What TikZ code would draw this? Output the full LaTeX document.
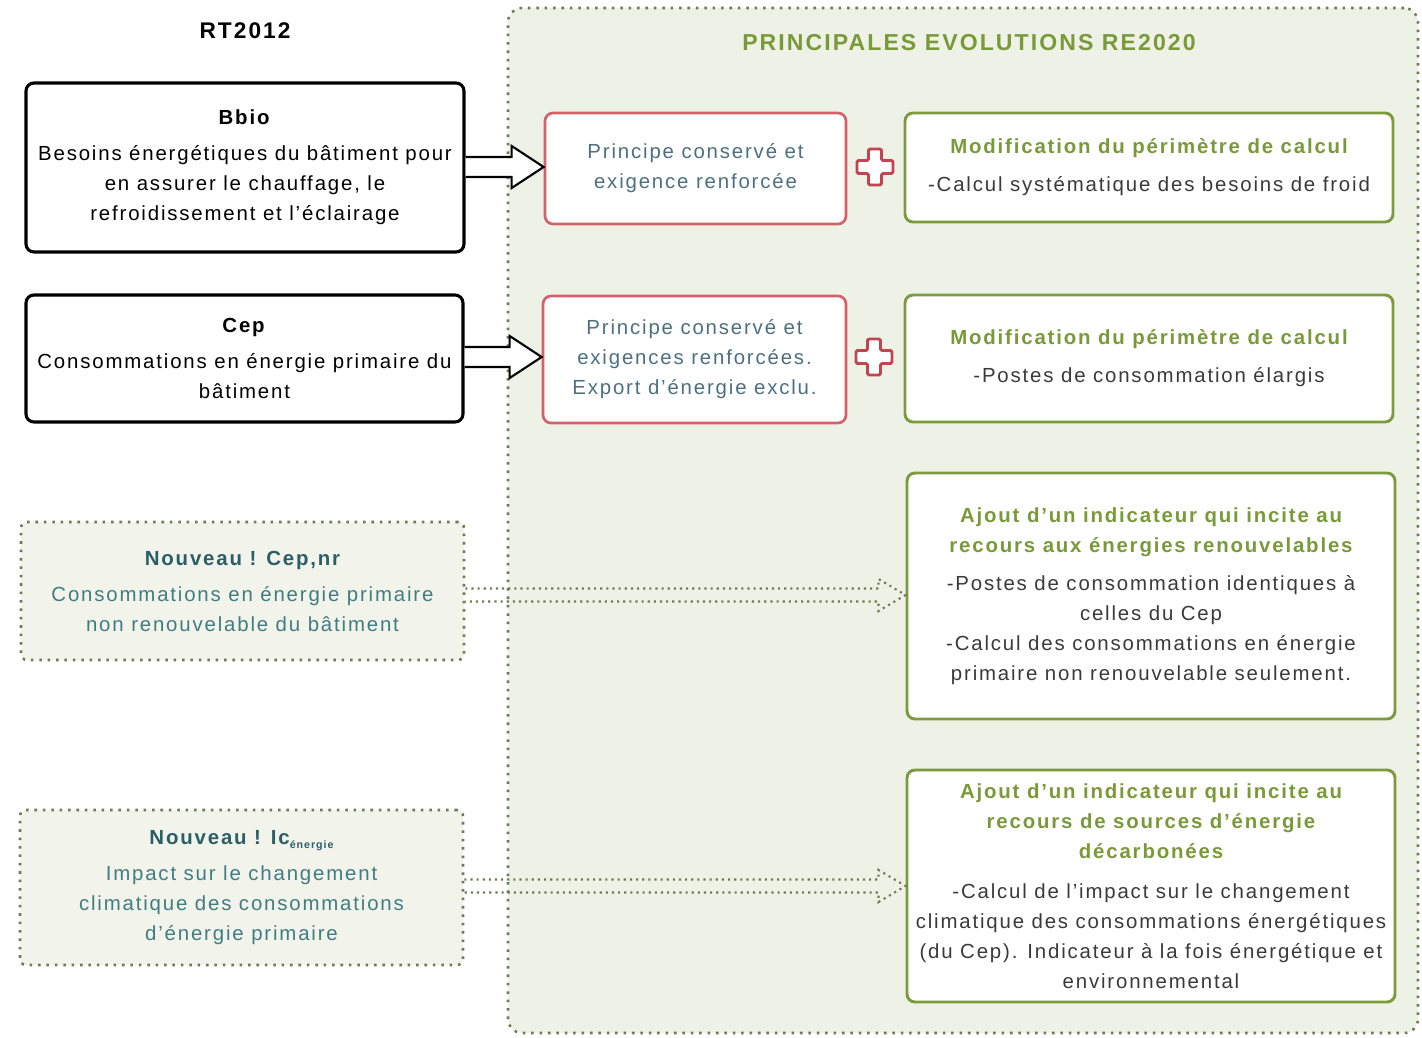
\documentclass[tikz,border=0pt]{standalone}
\usepackage{fontspec}
\setmainfont[LetterSpace=9]{Liberation Sans}
\usetikzlibrary{calc}
\newdimen\px \px=0.75pt
\definecolor{grn}{HTML}{7D9B3E}
\definecolor{grntxt}{HTML}{7A9A3A}
\definecolor{redb}{HTML}{D4606A}
\definecolor{plusc}{HTML}{C04550}
\definecolor{tealA}{HTML}{2B5F66}
\definecolor{tealB}{HTML}{3F7D80}
\definecolor{redtxt}{HTML}{4D7080}
\definecolor{bodytxt}{HTML}{3A3A3A}
\definecolor{contfill}{HTML}{EEF1E6}
\definecolor{leftfill}{HTML}{F2F4EC}
\definecolor{dotc}{HTML}{707A55}
\tikzset{
  txt/.style={font=\fontsize{15.3}{22.5}\selectfont, align=center, inner sep=0pt},
  rtbox/.style={txt, draw=black, line width=2.3pt, rounded corners=8\px, fill=white},
  redbox/.style={txt, draw=redb, line width=2pt, rounded corners=8\px, fill=white, text=redtxt},
  grnbox/.style={txt, draw=grn, line width=2.2pt, rounded corners=8\px, fill=white, text=bodytxt},
  dotbox/.style={txt, draw=dotc, line width=1.9pt, dash pattern=on 1.9pt off 4.4pt, rounded corners=6\px, fill=leftfill, text=tealB},
  container/.style={draw=dotc, line width=1.9pt, dash pattern=on 1.9pt off 4.4pt, rounded corners=14\px, fill=contfill, inner sep=0pt},
  bigarrow/.style={draw=black, line width=1.6pt, fill=white, line join=miter},
  dotarrow/.style={draw=dotc, line width=1.6pt, dash pattern=on 1.6pt off 3pt},
  plusst/.style={draw=plusc, line width=2.2pt, fill=white, rounded corners=1.5\px, line join=round}
}
\newcommand\gt[1]{{\bfseries\color{grntxt}#1}}
\newcommand\plussign[1]{\draw[plusst] (#1) ++(-6.5,-18) -- ++(13,0) -- ++(0,11.5) -- ++(11.5,0) -- ++(0,13) -- ++(-11.5,0) -- ++(0,11.5) -- ++(-13,0) -- ++(0,-11.5) -- ++(-11.5,0) -- ++(0,-13) -- ++(11.5,0) -- cycle;}
% hollow arrow: start, end, shaft half, head half, head length, style
\newcommand\harrow[6]{\draw[#6] ($(#1)+(0,-#3)$) -- ($(#2)+(-#5,-#3)$) -- ($(#2)+(-#5,-#4)$) -- (#2) -- ($(#2)+(-#5,#4)$) -- ($(#2)+(-#5,#3)$) -- ($(#1)+(0,#3)$);}
\begin{document}
\begin{tikzpicture}[x=0.75pt,y=-0.75pt]
\useasboundingbox (0,0) rectangle (1422,1038);
\fill[white] (0,0) rectangle (1422,1038);

% container
\node[container, minimum width=910\px, minimum height=1025\px] (re) at (963,520.5) {};
\node[font=\fontsize{17.3}{20}\selectfont\bfseries, text=grntxt, inner sep=0pt] (retitle) at (969,43) {PRINCIPALES EVOLUTIONS RE2020};
\node[font=\fontsize{17}{20}\selectfont\bfseries, inner sep=0pt] (rttitle) at (245,31) {RT2012};

% left RT2012 boxes
\node[rtbox, minimum width=438\px, minimum height=169\px] (bbio) at (245,167.5)
  {\textbf{Bbio}\\[6\px] Besoins énergétiques du bâtiment pour\\en assurer le chauffage, le\\refroidissement et l’éclairage};
\node[rtbox, minimum width=437\px, minimum height=127\px] (cep) at (244.5,358.5)
  {\textbf{Cep}\\[6\px] Consommations en énergie primaire du\\bâtiment};
\node[dotbox, minimum width=443\px, minimum height=138\px] (cepnr) at (242.5,591)
  {{\bfseries\color{tealA}Nouveau ! Cep,nr}\\[6\px] Consommations en énergie primaire\\non renouvelable du bâtiment};
\node[dotbox, minimum width=443\px, minimum height=155\px] (ic) at (241.5,887.5)
  {{\bfseries\color{tealA}Nouveau ! Ic\raisebox{-0.35ex}{\fontsize{8}{8}\selectfont énergie}}\\[6\px] Impact sur le changement\\climatique des consommations\\d'énergie primaire};

% red boxes
\node[redbox, minimum width=301\px, minimum height=111\px] (red1) at (695.5,168.5)
  {Principe conservé et\\exigence renforcée};
\node[redbox, minimum width=303\px, minimum height=127\px] (red2) at (694.5,359.5)
  {Principe conservé et\\exigences renforcées.\\Export d’énergie exclu.};

% plus signs
\coordinate (p1) at (875,167);
\coordinate (p2) at (874,357);
\plussign{p1}
\plussign{p2}

% green boxes
\node[grnbox, minimum width=488\px, minimum height=109\px] (g1) at (1149,167.5)
  {\gt{Modification du périmètre de calcul}\\[8\px]-Calcul systématique des besoins de froid};
\node[grnbox, minimum width=488\px, minimum height=127\px] (g2) at (1149,358.5)
  {\gt{Modification du périmètre de calcul}\\[8\px]-Postes de consommation élargis};
\node[grnbox, minimum width=488\px, minimum height=246\px] (g3) at (1151,596)
  {\gt{Ajout d’un indicateur qui incite au}\\\gt{recours aux énergies renouvelables}\\[8\px]-Postes de consommation identiques à\\celles du Cep\\-Calcul des consommations en énergie\\primaire non renouvelable seulement.};
\node[grnbox, minimum width=488\px, minimum height=232\px] (g4) at (1151,886)
  {\gt{Ajout d’un indicateur qui incite au}\\\gt{recours de sources d’énergie}\\\gt{décarbonées}\\[10\px]-Calcul de l’impact sur le changement\\climatique des consommations énergétiques\\(du Cep). Indicateur à la fois énergétique et\\environnemental};

% arrows
\coordinate (a1s) at (bbio.east |- 0,167);
\coordinate (a1e) at (red1.west |- 0,167);
\harrow{a1s}{a1e}{10}{21}{32}{bigarrow}
\coordinate (a2s) at (cep.east |- 0,357);
\coordinate (a2e) at (red2.west |- 0,357);
\harrow{a2s}{a2e}{10}{21}{32}{bigarrow}
\coordinate (a3s) at (cepnr.east |- 0,595);
\coordinate (a3e) at (g3.west |- 0,595);
\harrow{a3s}{a3e}{6.5}{16}{27}{dotarrow}
\coordinate (a4s) at (ic.east |- 0,886);
\coordinate (a4e) at (g4.west |- 0,886);
\harrow{a4s}{a4e}{6.5}{16}{27}{dotarrow}
\end{tikzpicture}
\end{document}
